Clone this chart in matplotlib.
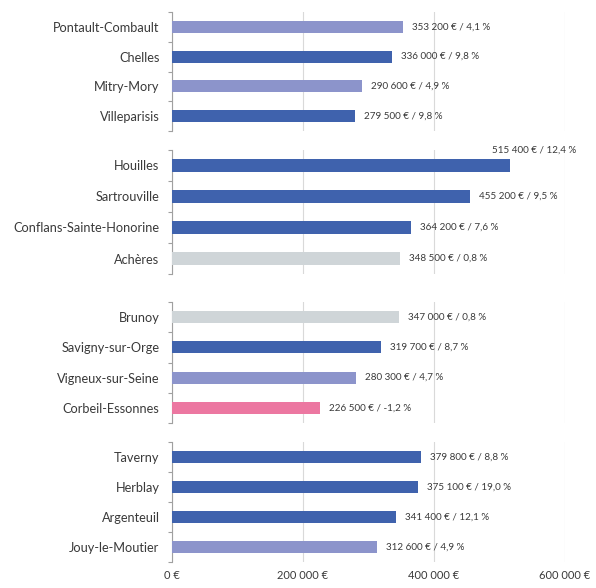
import matplotlib.pyplot as plt
from matplotlib.ticker import FixedLocator, NullFormatter

# four groups of towns, top to bottom
groups = [
    ["Pontault-Combault", "Chelles", "Mitry-Mory", "Villeparisis"],
    ["Houilles", "Sartrouville", "Conflans-Sainte-Honorine", "Achères"],
    ["Brunoy", "Savigny-sur-Orge", "Vigneux-sur-Seine", "Corbeil-Essonnes"],
    ["Taverny", "Herblay", "Argenteuil", "Jouy-le-Moutier"],
]
prices = [
    [353200, 336000, 290600, 279500],
    [515400, 455200, 364200, 348500],
    [347000, 319700, 280300, 226500],
    [379800, 375100, 341400, 312600],
]
changes = [
    [4.1, 9.8, 4.9, 9.8],
    [12.4, 9.5, 7.6, 0.8],
    [0.8, 8.7, 4.7, -1.2],
    [8.8, 19.0, 12.1, 4.9],
]
xticks = [0, 200000, 400000, 600000]
xtick_labels = ["0 €", "200 000 €", "400 000 €", "600 000 €"]


def bar_color(c):
    if c < 0:
        return "#ec77a1"
    if c < 2:
        return "#cfd5d8"
    if c < 5:
        return "#8c94cb"
    return "#3f62ad"


def fmt(p, c):
    s = f"{p:,}".replace(",", " ")
    pc = f"{c:.1f}".replace(".", ",")
    return f"{s} € / {pc} %"


plt.rcParams['font.family'] = ['Lato', 'DejaVu Sans']
txt = "#3a3a3a"

W, H = 596, 588
fig = plt.figure(figsize=(W / 100, H / 100), dpi=100)

# panel extents in pixels (top, bottom)
panels = [(12, 131), (150, 274), (302, 423), (442, 562)]
left_px, right_px = 172, 565

for i, (top, bot) in enumerate(panels):
    ax = fig.add_axes([left_px / W, 1 - bot / H, (right_px - left_px) / W, (bot - top) / H])
    names = groups[i]
    n = len(names)
    ypos = list(range(n))
    ax.barh(ypos, prices[i], height=0.4,
            color=[bar_color(c) for c in changes[i]], zorder=3)
    ax.set_xlim(0, 600000)
    ax.set_ylim(n - 0.5, -0.5)
    ax.set_yticks(ypos)
    ax.set_yticklabels(names, fontsize=9.2, color=txt)
    ax.yaxis.set_minor_locator(FixedLocator([k - 0.5 for k in range(n + 1)]))
    ax.tick_params(axis="y", which="major", length=0, pad=9)
    ax.tick_params(axis="y", which="minor", length=3, color="#a0a0a0", width=0.8)
    ax.set_xticks(xticks)
    ax.grid(axis="x", color="#d9d9d9", linewidth=0.8, zorder=0)
    for s in ["top", "right", "bottom"]:
        ax.spines[s].set_visible(False)
    ax.spines["left"].set_color("#a0a0a0")
    ax.spines["left"].set_linewidth(0.8)
    if i == len(panels) - 1:
        ax.set_xticklabels(xtick_labels, fontsize=8, color=txt)
        ax.tick_params(axis="x", length=0, pad=6)
    else:
        ax.xaxis.set_major_formatter(NullFormatter())
        ax.tick_params(axis="x", length=0)

    for y, p, c in zip(ypos, prices[i], changes[i]):
        if p > 500000:
            ax.annotate(fmt(p, c), (p, y), xytext=(-18, 15), textcoords="offset pixels",
                        ha="left", va="center", fontsize=7.1, color=txt,
                        annotation_clip=False)
        else:
            ax.annotate(fmt(p, c), (p, y), xytext=(9, 0), textcoords="offset pixels",
                        ha="left", va="center", fontsize=7.1, color=txt)

fig.savefig("out.png", dpi=100)
